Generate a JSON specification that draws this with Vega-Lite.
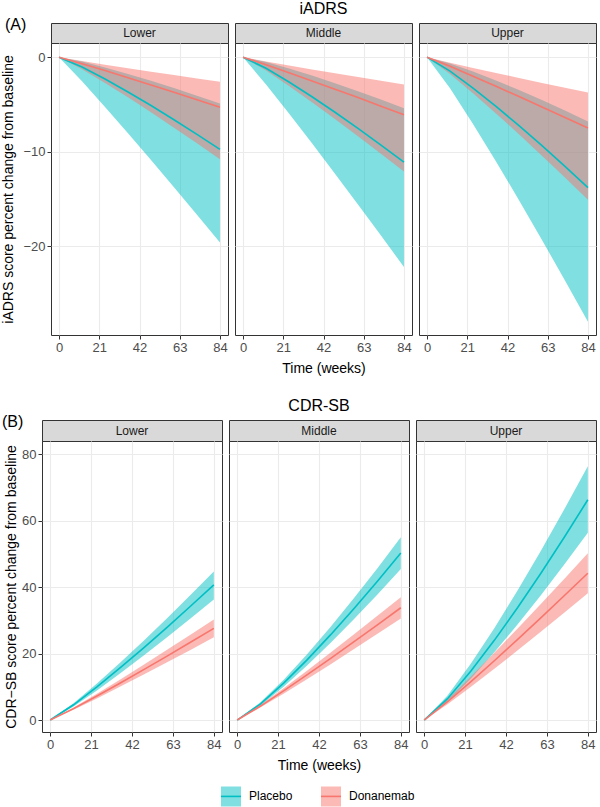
{
  "$schema": "https://vega.github.io/schema/vega-lite/v6.json",
  "padding": {"top": 0, "left": 1, "right": 2, "bottom": 2},
  "background": "white",
  "datasets": {
    "curves": [
      {"measure":"iADRS","panel":"Lower","group":"Placebo","week":0,"mean":0,"lower":0,"upper":0},
      {"measure":"iADRS","panel":"Lower","group":"Placebo","week":12,"mean":-1.04,"lower":-2.54,"upper":-0.47},
      {"measure":"iADRS","panel":"Lower","group":"Placebo","week":24,"mean":-2.31,"lower":-5.26,"upper":-1.09},
      {"measure":"iADRS","panel":"Lower","group":"Placebo","week":36,"mean":-3.68,"lower":-8.05,"upper":-1.77},
      {"measure":"iADRS","panel":"Lower","group":"Placebo","week":48,"mean":-5.12,"lower":-10.89,"upper":-2.5},
      {"measure":"iADRS","panel":"Lower","group":"Placebo","week":60,"mean":-6.62,"lower":-13.77,"upper":-3.27},
      {"measure":"iADRS","panel":"Lower","group":"Placebo","week":72,"mean":-8.17,"lower":-16.67,"upper":-4.07},
      {"measure":"iADRS","panel":"Lower","group":"Placebo","week":84,"mean":-9.75,"lower":-19.6,"upper":-4.9},
      {"measure":"iADRS","panel":"Lower","group":"Donanemab","week":0,"mean":0,"lower":0,"upper":0},
      {"measure":"iADRS","panel":"Lower","group":"Donanemab","week":12,"mean":-0.69,"lower":-1.27,"upper":-0.41},
      {"measure":"iADRS","panel":"Lower","group":"Donanemab","week":24,"mean":-1.42,"lower":-2.72,"upper":-0.79},
      {"measure":"iADRS","panel":"Lower","group":"Donanemab","week":36,"mean":-2.18,"lower":-4.25,"upper":-1.16},
      {"measure":"iADRS","panel":"Lower","group":"Donanemab","week":48,"mean":-2.95,"lower":-5.84,"upper":-1.53},
      {"measure":"iADRS","panel":"Lower","group":"Donanemab","week":60,"mean":-3.72,"lower":-7.46,"upper":-1.89},
      {"measure":"iADRS","panel":"Lower","group":"Donanemab","week":72,"mean":-4.51,"lower":-9.12,"upper":-2.25},
      {"measure":"iADRS","panel":"Lower","group":"Donanemab","week":84,"mean":-5.3,"lower":-10.8,"upper":-2.6},
      {"measure":"iADRS","panel":"Middle","group":"Placebo","week":0,"mean":0,"lower":0,"upper":0},
      {"measure":"iADRS","panel":"Middle","group":"Placebo","week":12,"mean":-1.18,"lower":-2.88,"upper":-0.52},
      {"measure":"iADRS","panel":"Middle","group":"Placebo","week":24,"mean":-2.63,"lower":-5.96,"upper":-1.2},
      {"measure":"iADRS","panel":"Middle","group":"Placebo","week":36,"mean":-4.19,"lower":-9.12,"upper":-1.95},
      {"measure":"iADRS","panel":"Middle","group":"Placebo","week":48,"mean":-5.83,"lower":-12.34,"upper":-2.76},
      {"measure":"iADRS","panel":"Middle","group":"Placebo","week":60,"mean":-7.54,"lower":-15.59,"upper":-3.61},
      {"measure":"iADRS","panel":"Middle","group":"Placebo","week":72,"mean":-9.3,"lower":-18.88,"upper":-4.49},
      {"measure":"iADRS","panel":"Middle","group":"Placebo","week":84,"mean":-11.1,"lower":-22.2,"upper":-5.4},
      {"measure":"iADRS","panel":"Middle","group":"Donanemab","week":0,"mean":0,"lower":0,"upper":0},
      {"measure":"iADRS","panel":"Middle","group":"Donanemab","week":12,"mean":-0.79,"lower":-1.42,"upper":-0.46},
      {"measure":"iADRS","panel":"Middle","group":"Donanemab","week":24,"mean":-1.64,"lower":-3.05,"upper":-0.88},
      {"measure":"iADRS","panel":"Middle","group":"Donanemab","week":36,"mean":-2.51,"lower":-4.77,"upper":-1.3},
      {"measure":"iADRS","panel":"Middle","group":"Donanemab","week":48,"mean":-3.39,"lower":-6.54,"upper":-1.7},
      {"measure":"iADRS","panel":"Middle","group":"Donanemab","week":60,"mean":-4.28,"lower":-8.36,"upper":-2.11},
      {"measure":"iADRS","panel":"Middle","group":"Donanemab","week":72,"mean":-5.19,"lower":-10.21,"upper":-2.5},
      {"measure":"iADRS","panel":"Middle","group":"Donanemab","week":84,"mean":-6.1,"lower":-12.1,"upper":-2.9},
      {"measure":"iADRS","panel":"Upper","group":"Placebo","week":0,"mean":0,"lower":0,"upper":0},
      {"measure":"iADRS","panel":"Upper","group":"Placebo","week":12,"mean":-1.47,"lower":-3.29,"upper":-0.66},
      {"measure":"iADRS","panel":"Upper","group":"Placebo","week":24,"mean":-3.27,"lower":-7.06,"upper":-1.51},
      {"measure":"iADRS","panel":"Upper","group":"Placebo","week":36,"mean":-5.21,"lower":-11.03,"upper":-2.46},
      {"measure":"iADRS","panel":"Upper","group":"Placebo","week":48,"mean":-7.25,"lower":-15.13,"upper":-3.47},
      {"measure":"iADRS","panel":"Upper","group":"Placebo","week":60,"mean":-9.37,"lower":-19.34,"upper":-4.54},
      {"measure":"iADRS","panel":"Upper","group":"Placebo","week":72,"mean":-11.56,"lower":-23.63,"upper":-5.65},
      {"measure":"iADRS","panel":"Upper","group":"Placebo","week":84,"mean":-13.8,"lower":-28.0,"upper":-6.8},
      {"measure":"iADRS","panel":"Upper","group":"Donanemab","week":0,"mean":0,"lower":0,"upper":0},
      {"measure":"iADRS","panel":"Upper","group":"Donanemab","week":12,"mean":-0.97,"lower":-1.78,"upper":-0.59},
      {"measure":"iADRS","panel":"Upper","group":"Donanemab","week":24,"mean":-2.01,"lower":-3.81,"upper":-1.14},
      {"measure":"iADRS","panel":"Upper","group":"Donanemab","week":36,"mean":-3.08,"lower":-5.95,"upper":-1.68},
      {"measure":"iADRS","panel":"Upper","group":"Donanemab","week":48,"mean":-4.17,"lower":-8.16,"upper":-2.2},
      {"measure":"iADRS","panel":"Upper","group":"Donanemab","week":60,"mean":-5.27,"lower":-10.43,"upper":-2.72},
      {"measure":"iADRS","panel":"Upper","group":"Donanemab","week":72,"mean":-6.38,"lower":-12.74,"upper":-3.24},
      {"measure":"iADRS","panel":"Upper","group":"Donanemab","week":84,"mean":-7.5,"lower":-15.1,"upper":-3.75},
      {"measure":"CDR-SB","panel":"Lower","group":"Placebo","week":0,"mean":0,"lower":0,"upper":0},
      {"measure":"CDR-SB","panel":"Lower","group":"Placebo","week":12,"mean":4.6,"lower":4.11,"upper":5.06},
      {"measure":"CDR-SB","panel":"Lower","group":"Placebo","week":24,"mean":10.0,"lower":8.92,"upper":10.99},
      {"measure":"CDR-SB","panel":"Lower","group":"Placebo","week":36,"mean":15.75,"lower":14.05,"upper":17.3},
      {"measure":"CDR-SB","panel":"Lower","group":"Placebo","week":48,"mean":21.75,"lower":19.4,"upper":23.88},
      {"measure":"CDR-SB","panel":"Lower","group":"Placebo","week":60,"mean":27.92,"lower":24.9,"upper":30.66},
      {"measure":"CDR-SB","panel":"Lower","group":"Placebo","week":72,"mean":34.25,"lower":30.54,"upper":37.61},
      {"measure":"CDR-SB","panel":"Lower","group":"Placebo","week":84,"mean":40.7,"lower":36.3,"upper":44.7},
      {"measure":"CDR-SB","panel":"Lower","group":"Donanemab","week":0,"mean":0,"lower":0,"upper":0},
      {"measure":"CDR-SB","panel":"Lower","group":"Donanemab","week":12,"mean":3.44,"lower":3.11,"upper":3.78},
      {"measure":"CDR-SB","panel":"Lower","group":"Donanemab","week":24,"mean":7.22,"lower":6.52,"upper":7.93},
      {"measure":"CDR-SB","panel":"Lower","group":"Donanemab","week":36,"mean":11.15,"lower":10.06,"upper":12.24},
      {"measure":"CDR-SB","panel":"Lower","group":"Donanemab","week":48,"mean":15.17,"lower":13.68,"upper":16.65},
      {"measure":"CDR-SB","panel":"Lower","group":"Donanemab","week":60,"mean":19.25,"lower":17.37,"upper":21.14},
      {"measure":"CDR-SB","panel":"Lower","group":"Donanemab","week":72,"mean":23.4,"lower":21.11,"upper":25.69},
      {"measure":"CDR-SB","panel":"Lower","group":"Donanemab","week":84,"mean":27.6,"lower":24.9,"upper":30.3},
      {"measure":"CDR-SB","panel":"Middle","group":"Placebo","week":0,"mean":0,"lower":0,"upper":0},
      {"measure":"CDR-SB","panel":"Middle","group":"Placebo","week":12,"mean":4.87,"lower":4.4,"upper":5.32},
      {"measure":"CDR-SB","panel":"Middle","group":"Placebo","week":24,"mean":11.19,"lower":10.12,"upper":12.23},
      {"measure":"CDR-SB","panel":"Middle","group":"Placebo","week":36,"mean":18.2,"lower":16.46,"upper":19.9},
      {"measure":"CDR-SB","panel":"Middle","group":"Placebo","week":48,"mean":25.7,"lower":23.25,"upper":28.11},
      {"measure":"CDR-SB","panel":"Middle","group":"Placebo","week":60,"mean":33.59,"lower":30.38,"upper":36.73},
      {"measure":"CDR-SB","panel":"Middle","group":"Placebo","week":72,"mean":41.8,"lower":37.82,"upper":45.71},
      {"measure":"CDR-SB","panel":"Middle","group":"Placebo","week":84,"mean":50.3,"lower":45.5,"upper":55.0},
      {"measure":"CDR-SB","panel":"Middle","group":"Donanemab","week":0,"mean":0,"lower":0,"upper":0},
      {"measure":"CDR-SB","panel":"Middle","group":"Donanemab","week":12,"mean":4.21,"lower":3.82,"upper":4.61},
      {"measure":"CDR-SB","panel":"Middle","group":"Donanemab","week":24,"mean":8.85,"lower":8.01,"upper":9.68},
      {"measure":"CDR-SB","panel":"Middle","group":"Donanemab","week":36,"mean":13.65,"lower":12.36,"upper":14.94},
      {"measure":"CDR-SB","panel":"Middle","group":"Donanemab","week":48,"mean":18.57,"lower":16.81,"upper":20.33},
      {"measure":"CDR-SB","panel":"Middle","group":"Donanemab","week":60,"mean":23.58,"lower":21.35,"upper":25.81},
      {"measure":"CDR-SB","panel":"Middle","group":"Donanemab","week":72,"mean":28.66,"lower":25.95,"upper":31.37},
      {"measure":"CDR-SB","panel":"Middle","group":"Donanemab","week":84,"mean":33.8,"lower":30.6,"upper":37.0},
      {"measure":"CDR-SB","panel":"Upper","group":"Placebo","week":0,"mean":0,"lower":0,"upper":0},
      {"measure":"CDR-SB","panel":"Upper","group":"Placebo","week":12,"mean":6.42,"lower":5.46,"upper":7.4},
      {"measure":"CDR-SB","panel":"Upper","group":"Placebo","week":24,"mean":14.75,"lower":12.54,"upper":16.99},
      {"measure":"CDR-SB","panel":"Upper","group":"Placebo","week":36,"mean":23.99,"lower":20.41,"upper":27.64},
      {"measure":"CDR-SB","panel":"Upper","group":"Placebo","week":48,"mean":33.88,"lower":28.82,"upper":39.04},
      {"measure":"CDR-SB","panel":"Upper","group":"Placebo","week":60,"mean":44.28,"lower":37.66,"upper":51.02},
      {"measure":"CDR-SB","panel":"Upper","group":"Placebo","week":72,"mean":55.1,"lower":46.87,"upper":63.5},
      {"measure":"CDR-SB","panel":"Upper","group":"Placebo","week":84,"mean":66.3,"lower":56.4,"upper":76.4},
      {"measure":"CDR-SB","panel":"Upper","group":"Donanemab","week":0,"mean":0,"lower":0,"upper":0},
      {"measure":"CDR-SB","panel":"Upper","group":"Donanemab","week":12,"mean":5.51,"lower":4.76,"upper":6.26},
      {"measure":"CDR-SB","panel":"Upper","group":"Donanemab","week":24,"mean":11.57,"lower":10.0,"upper":13.14},
      {"measure":"CDR-SB","panel":"Upper","group":"Donanemab","week":36,"mean":17.85,"lower":15.43,"upper":20.28},
      {"measure":"CDR-SB","panel":"Upper","group":"Donanemab","week":48,"mean":24.29,"lower":20.99,"upper":27.58},
      {"measure":"CDR-SB","panel":"Upper","group":"Donanemab","week":60,"mean":30.83,"lower":26.65,"upper":35.02},
      {"measure":"CDR-SB","panel":"Upper","group":"Donanemab","week":72,"mean":37.48,"lower":32.39,"upper":42.56},
      {"measure":"CDR-SB","panel":"Upper","group":"Donanemab","week":84,"mean":44.2,"lower":38.2,"upper":50.2}
    ]
  },
  "vconcat": [
    {
      "bounds": "flush",
      "spacing": 0,
      "hconcat": [
        {"width": 9, "height": 1, "data": {"values": []}, "mark": "point", "view": {"stroke": null}},
        {
          "columns": 3,
          "bounds": "flush",
          "spacing": {"row": 0, "column": 7},
          "concat": [
            {"width": 177, "height": 20, "data": {"values": [{"label": "Lower"}]},
             "title": {"text": "(A)", "anchor": "start", "dx": -46, "dy": 16, "fontSize": 16, "offset": -7, "baseline": "alphabetic"},
             "view": {"fill": "#D9D9D9", "stroke": "#333333"},
             "mark": {"type": "text", "fontSize": 12, "color": "#1A1A1A"},
             "encoding": {"text": {"field": "label"}}},
            {"width": 177, "height": 20, "data": {"values": [{"label": "Middle"}]},
             "title": {"text": "iADRS", "anchor": "middle", "fontSize": 16, "offset": -7, "baseline": "alphabetic"},
             "view": {"fill": "#D9D9D9", "stroke": "#333333"},
             "mark": {"type": "text", "fontSize": 12, "color": "#1A1A1A"},
             "encoding": {"text": {"field": "label"}}},
            {"width": 177, "height": 20, "data": {"values": [{"label": "Upper"}]},
             "view": {"fill": "#D9D9D9", "stroke": "#333333"},
             "mark": {"type": "text", "fontSize": 12, "color": "#1A1A1A"},
             "encoding": {"text": {"field": "label"}}},
            {"width": 177, "height": 292, "data": {"name": "curves"},
             "transform": [{"filter": "datum.measure === 'iADRS' && datum.panel === 'Lower'"}],
             "layer": [
               {"mark": {"type": "area", "fillOpacity": 0.5},
                "encoding": {
                  "x": {"field": "week", "type": "quantitative", "scale": {"domain": [-4.2, 88.2], "nice": false, "zero": false}, "axis": {"values": [0, 21, 42, 63, 84], "title": null}},
                  "y": {"field": "lower", "type": "quantitative", "scale": {"domain": [-29.4, 1.5], "nice": false, "zero": false}, "axis": {"values": [0, -10, -20], "title": "iADRS score percent change from baseline", "titlePadding": 7}},
                  "y2": {"field": "upper"},
                  "color": {"field": "group", "type": "nominal", "sort": ["Placebo", "Donanemab"], "scale": {"domain": ["Placebo", "Donanemab"], "range": ["#00BFC4", "#F8766D"]},
                    "legend": {"orient": "bottom", "direction": "horizontal", "title": " ", "titleOrient": "left", "titlePadding": 38, "symbolType": "M-1,0H1V-1H-1V1H1V0", "symbolSize": 400, "symbolStrokeWidth": 1.6, "symbolDash": [20, 300], "labelFontSize": 12, "labelColor": "black", "columnPadding": 24, "labelOffset": 7, "offset": 12,
                      "encode": {"symbols": {"update": {"fill": {"scale": "color", "field": "value"}, "fillOpacity": {"value": 0.5}, "stroke": {"scale": "color", "field": "value"}, "strokeDash": {"value": [20, 300]}}}}}}
                }},
               {"mark": {"type": "line", "strokeWidth": 1.6},
                "encoding": {
                  "x": {"field": "week", "type": "quantitative", "axis": {"orient": "top", "values": [10.5, 31.5, 52.5, 73.5], "title": null}},
                  "y": {"field": "mean", "type": "quantitative", "axis": {"orient": "right", "values": [-25, -15, -5], "title": null}},
                  "color": {"field": "group", "type": "nominal"}
                }}
             ],
             "resolve": {"axis": {"x": "independent", "y": "independent"}}},
            {"width": 177, "height": 292, "data": {"name": "curves"},
             "transform": [{"filter": "datum.measure === 'iADRS' && datum.panel === 'Middle'"}],
             "layer": [
               {"mark": {"type": "area", "fillOpacity": 0.5},
                "encoding": {
                  "x": {"field": "week", "type": "quantitative", "scale": {"domain": [-4.2, 88.2], "nice": false, "zero": false}, "axis": {"values": [0, 21, 42, 63, 84], "title": "Time (weeks)"}},
                  "y": {"field": "lower", "type": "quantitative", "scale": {"domain": [-29.4, 1.5], "nice": false, "zero": false}, "axis": {"values": [0, -10, -20], "title": null, "labels": false, "ticks": false}},
                  "y2": {"field": "upper"},
                  "color": {"field": "group", "type": "nominal"}
                }},
               {"mark": {"type": "line", "strokeWidth": 1.6},
                "encoding": {
                  "x": {"field": "week", "type": "quantitative", "axis": {"orient": "top", "values": [10.5, 31.5, 52.5, 73.5], "title": null}},
                  "y": {"field": "mean", "type": "quantitative", "axis": {"orient": "right", "values": [-25, -15, -5], "title": null}},
                  "color": {"field": "group", "type": "nominal"}
                }}
             ],
             "resolve": {"axis": {"x": "independent", "y": "independent"}}},
            {"width": 177, "height": 292, "data": {"name": "curves"},
             "transform": [{"filter": "datum.measure === 'iADRS' && datum.panel === 'Upper'"}],
             "layer": [
               {"mark": {"type": "area", "fillOpacity": 0.5},
                "encoding": {
                  "x": {"field": "week", "type": "quantitative", "scale": {"domain": [-4.2, 88.2], "nice": false, "zero": false}, "axis": {"values": [0, 21, 42, 63, 84], "title": null}},
                  "y": {"field": "lower", "type": "quantitative", "scale": {"domain": [-29.4, 1.5], "nice": false, "zero": false}, "axis": {"values": [0, -10, -20], "title": null, "labels": false, "ticks": false}},
                  "y2": {"field": "upper"},
                  "color": {"field": "group", "type": "nominal"}
                }},
               {"mark": {"type": "line", "strokeWidth": 1.6},
                "encoding": {
                  "x": {"field": "week", "type": "quantitative", "axis": {"orient": "top", "values": [10.5, 31.5, 52.5, 73.5], "title": null}},
                  "y": {"field": "mean", "type": "quantitative", "axis": {"orient": "right", "values": [-25, -15, -5], "title": null}},
                  "color": {"field": "group", "type": "nominal"}
                }}
             ],
             "resolve": {"axis": {"x": "independent", "y": "independent"}}}
          ]
        }
      ]
    },
    {
      "columns": 3,
      "bounds": "flush",
      "spacing": {"row": 0, "column": 7},
      "concat": [
        {"width": 180, "height": 21, "data": {"values": [{"label": "Lower"}]},
         "title": {"text": "(B)", "anchor": "start", "dx": -40, "dy": 16, "fontSize": 16, "offset": -7, "baseline": "alphabetic"},
         "view": {"fill": "#D9D9D9", "stroke": "#333333"},
         "mark": {"type": "text", "fontSize": 12, "color": "#1A1A1A"},
         "encoding": {"text": {"field": "label"}}},
        {"width": 180, "height": 21, "data": {"values": [{"label": "Middle"}]},
         "title": {"text": "CDR-SB", "anchor": "middle", "fontSize": 16, "offset": -7, "baseline": "alphabetic"},
         "view": {"fill": "#D9D9D9", "stroke": "#333333"},
         "mark": {"type": "text", "fontSize": 12, "color": "#1A1A1A"},
         "encoding": {"text": {"field": "label"}}},
        {"width": 180, "height": 21, "data": {"values": [{"label": "Upper"}]},
         "view": {"fill": "#D9D9D9", "stroke": "#333333"},
         "mark": {"type": "text", "fontSize": 12, "color": "#1A1A1A"},
         "encoding": {"text": {"field": "label"}}},
        {"width": 180, "height": 291, "data": {"name": "curves"},
         "transform": [{"filter": "datum.measure === 'CDR-SB' && datum.panel === 'Lower'"}],
         "layer": [
           {"mark": {"type": "area", "fillOpacity": 0.5},
            "encoding": {
              "x": {"field": "week", "type": "quantitative", "scale": {"domain": [-4.2, 88.2], "nice": false, "zero": false}, "axis": {"values": [0, 21, 42, 63, 84], "title": null}},
              "y": {"field": "lower", "type": "quantitative", "scale": {"domain": [-3.6, 84], "nice": false, "zero": false}, "axis": {"values": [0, 20, 40, 60, 80], "title": "CDR−SB score percent change from baseline", "titlePadding": 3}},
              "y2": {"field": "upper"},
              "color": {"field": "group", "type": "nominal"}
            }},
           {"mark": {"type": "line", "strokeWidth": 1.6},
            "encoding": {
              "x": {"field": "week", "type": "quantitative", "axis": {"orient": "top", "values": [10.5, 31.5, 52.5, 73.5], "title": null}},
              "y": {"field": "mean", "type": "quantitative", "axis": {"orient": "right", "values": [10, 30, 50, 70], "title": null}},
              "color": {"field": "group", "type": "nominal"}
            }}
         ],
         "resolve": {"axis": {"x": "independent", "y": "independent"}}},
        {"width": 180, "height": 291, "data": {"name": "curves"},
         "transform": [{"filter": "datum.measure === 'CDR-SB' && datum.panel === 'Middle'"}],
         "layer": [
           {"mark": {"type": "area", "fillOpacity": 0.5},
            "encoding": {
              "x": {"field": "week", "type": "quantitative", "scale": {"domain": [-4.2, 88.2], "nice": false, "zero": false}, "axis": {"values": [0, 21, 42, 63, 84], "title": "Time (weeks)"}},
              "y": {"field": "lower", "type": "quantitative", "scale": {"domain": [-3.6, 84], "nice": false, "zero": false}, "axis": {"values": [0, 20, 40, 60, 80], "title": null, "labels": false, "ticks": false}},
              "y2": {"field": "upper"},
              "color": {"field": "group", "type": "nominal"}
            }},
           {"mark": {"type": "line", "strokeWidth": 1.6},
            "encoding": {
              "x": {"field": "week", "type": "quantitative", "axis": {"orient": "top", "values": [10.5, 31.5, 52.5, 73.5], "title": null}},
              "y": {"field": "mean", "type": "quantitative", "axis": {"orient": "right", "values": [10, 30, 50, 70], "title": null}},
              "color": {"field": "group", "type": "nominal"}
            }}
         ],
         "resolve": {"axis": {"x": "independent", "y": "independent"}}},
        {"width": 180, "height": 291, "data": {"name": "curves"},
         "transform": [{"filter": "datum.measure === 'CDR-SB' && datum.panel === 'Upper'"}],
         "layer": [
           {"mark": {"type": "area", "fillOpacity": 0.5},
            "encoding": {
              "x": {"field": "week", "type": "quantitative", "scale": {"domain": [-4.2, 88.2], "nice": false, "zero": false}, "axis": {"values": [0, 21, 42, 63, 84], "title": null}},
              "y": {"field": "lower", "type": "quantitative", "scale": {"domain": [-3.6, 84], "nice": false, "zero": false}, "axis": {"values": [0, 20, 40, 60, 80], "title": null, "labels": false, "ticks": false}},
              "y2": {"field": "upper"},
              "color": {"field": "group", "type": "nominal"}
            }},
           {"mark": {"type": "line", "strokeWidth": 1.6},
            "encoding": {
              "x": {"field": "week", "type": "quantitative", "axis": {"orient": "top", "values": [10.5, 31.5, 52.5, 73.5], "title": null}},
              "y": {"field": "mean", "type": "quantitative", "axis": {"orient": "right", "values": [10, 30, 50, 70], "title": null}},
              "color": {"field": "group", "type": "nominal"}
            }}
         ],
         "resolve": {"axis": {"x": "independent", "y": "independent"}}}
      ]
    }
  ],
  "spacing": 21,
  "config": {
    "font": "Liberation Sans",
    "view": {"stroke": "#333333", "strokeWidth": 1},
    "title": {"fontWeight": "normal", "color": "black", "font": "Liberation Sans"},
    "axis": {"domain": false, "grid": true, "gridColor": "#EBEBEB", "gridWidth": 1.1, "tickColor": "#333333", "tickSize": 4, "labelColor": "#4D4D4D", "labelFontSize": 13, "labelPadding": 2, "labelFlush": false, "labelOverlap": false, "titleFontSize": 14, "titleFontWeight": "normal", "titleColor": "black"},
    "axisY": {"titlePadding": 4},
    "axisX": {"titlePadding": 7},
    "axisTop": {"labels": false, "ticks": false, "domain": false, "gridWidth": 0.6, "gridColor": "#F0F0F0"},
    "axisRight": {"labels": false, "ticks": false, "domain": false, "gridWidth": 0.6, "gridColor": "#F0F0F0"},
    "legend": {"labelFont": "Liberation Sans", "layout": {"bottom": {"anchor": "middle"}}}
  }
}
